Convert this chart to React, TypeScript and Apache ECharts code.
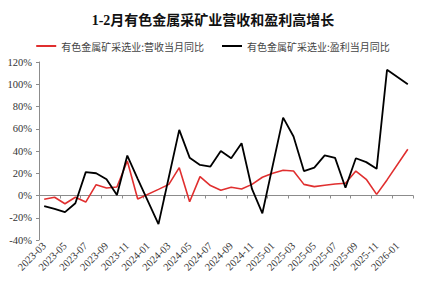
import React, { useEffect, useRef } from "react";
import * as echarts from "echarts";

const months: string[] = [
  "2023-03", "2023-04", "2023-05", "2023-06", "2023-07", "2023-08", "2023-09", "2023-10", "2023-11", "2023-12",
  "2024-01", "2024-02", "2024-03", "2024-04", "2024-05", "2024-06", "2024-07", "2024-08", "2024-09", "2024-10",
  "2024-11", "2024-12", "2025-01", "2025-02", "2025-03", "2025-04", "2025-05", "2025-06", "2025-07", "2025-08",
  "2025-09", "2025-10", "2025-11", "2025-12", "2026-01", "2026-02",
];

const revenueYoY: (number | null)[] = [
  -3.4, -1.6, -7.4, -1.6, -5.9, 9.7, 6.8, 7.6, 31, -3.2,
  null, 5.5, 10, 25, -5.6, 17, 8.9, 4.7, 7.4, 5.9,
  10, 16.4, 20, 22.7, 22, 10, 8, 9.2, 10.4, 11,
  22, 14.6, 1, 14, null, 41.6,
];

const profitYoY: (number | null)[] = [
  -9.5, -12, -14.9, -7, 21, 20, 14.6, 0.5, 35.9, 15,
  null, -25.7, 16.6, 59, 34, 27.5, 26, 40, 33.5, 47,
  5.9, -16, null, 70, 53, 22, 25, 36, 33.8, 7,
  33.5, 30, 24, 113, null, 100,
];

const seriesNames: string[] = ["有色金属矿采选业:营收当月同比", "有色金属矿采选业:盈利当月同比"];
const titleText = "1-2月有色金属采矿业营收和盈利高增长";

export default function App() {
  const ref = useRef<HTMLDivElement>(null);
  useEffect(() => {
    if (!ref.current) return;
    const chart = echarts.init(ref.current, undefined, { renderer: "svg" });
    const serif = "'Liberation Serif', 'Times New Roman', serif";
    const axisColor = "#8c8c8c";
    chart.setOption({
      animation: false,
      backgroundColor: "#ffffff",
      title: {
        text: titleText,
        left: "center",
        top: 8,
        textStyle: {
          fontFamily: "'Liberation Serif', 'Noto Sans CJK SC', serif",
          fontSize: 14,
          fontWeight: "bold",
          color: "#111",
        },
      },
      legend: {
        left: "center",
        top: 36,
        icon: "rect",
        itemWidth: 20,
        itemHeight: 2,
        itemGap: 18,
        textStyle: {
          fontFamily: "'Noto Sans CJK SC', sans-serif",
          fontSize: 10,
          color: "#444",
        },
        data: seriesNames,
      },
      grid: { left: 39, right: 13, top: 62, bottom: 44, containLabel: false },
      xAxis: [
        {
          type: "category",
          data: months,
          position: "bottom",
          boundaryGap: true,
          axisLine: { show: false, onZero: false },
          axisTick: { show: false },
          axisLabel: {
            interval: 1,
            rotate: 45,
            margin: 4,
            fontFamily: serif,
            fontSize: 10.5,
            color: "#333",
          },
          splitLine: { show: false },
        },
        {
          type: "category",
          data: months,
          position: "top",
          boundaryGap: true,
          axisLine: { show: true, onZero: true, lineStyle: { color: axisColor, width: 1 } },
          axisTick: { show: true, interval: 1, inside: true, length: 3, lineStyle: { color: axisColor } },
          axisLabel: { show: false },
          splitLine: { show: false },
        },
      ],
      yAxis: {
        type: "value",
        min: -40,
        max: 120,
        interval: 20,
        axisLine: { show: true, lineStyle: { color: axisColor, width: 1 } },
        axisTick: { show: true, length: 3, lineStyle: { color: axisColor } },
        axisLabel: {
          formatter: "{value}%",
          margin: 7,
          fontFamily: serif,
          fontSize: 10.5,
          color: "#333",
        },
        splitLine: { show: false },
      },
      series: [
        {
          name: seriesNames[0],
          type: "line",
          xAxisIndex: 0,
          data: revenueYoY,
          connectNulls: true,
          symbol: "none",
          lineStyle: { color: "#e02f2f", width: 1.6 },
          itemStyle: { color: "#e02f2f" },
        },
        {
          name: seriesNames[1],
          type: "line",
          xAxisIndex: 0,
          data: profitYoY,
          connectNulls: true,
          symbol: "none",
          lineStyle: { color: "#000000", width: 1.8 },
          itemStyle: { color: "#000000" },
        },
      ],
    });
    return () => chart.dispose();
  }, []);
  return <div ref={ref} style={{ width: 426, height: 284, margin: -8 }} />;
}
